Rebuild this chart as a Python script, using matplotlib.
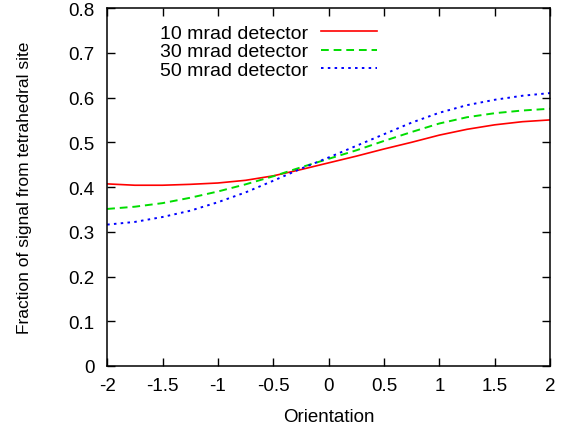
"""Fraction of signal from the tetrahedral site vs orientation, three detectors."""

import matplotlib
matplotlib.use("Agg")
import matplotlib.pyplot as plt

plt.rcParams["font.family"] = ["Liberation Sans", "DejaVu Sans"]

orientation = [-2.0, -1.75, -1.5, -1.25, -1.0, -0.75, -0.5, -0.25, 0.0,
               0.25, 0.5, 0.75, 1.0, 1.25, 1.5, 1.75, 2.0]
det_10mrad = [0.407, 0.404, 0.404, 0.406, 0.409, 0.415, 0.425, 0.439, 0.454,
              0.469, 0.485, 0.500, 0.516, 0.529, 0.539, 0.546, 0.550]
det_30mrad = [0.351, 0.356, 0.364, 0.376, 0.390, 0.406, 0.424, 0.444, 0.463,
              0.482, 0.503, 0.523, 0.542, 0.556, 0.565, 0.571, 0.575]
det_50mrad = [0.316, 0.322, 0.333, 0.347, 0.366, 0.388, 0.414, 0.441, 0.466,
              0.492, 0.518, 0.544, 0.566, 0.583, 0.595, 0.604, 0.610]

x_ticks = [-2, -1.5, -1, -0.5, 0, 0.5, 1, 1.5, 2]
x_ticklabels = ["-2", "-1.5", "-1", "-0.5", "0", "0.5", "1", "1.5", "2"]
y_ticks = [0, 0.1, 0.2, 0.3, 0.4, 0.5, 0.6, 0.7, 0.8]
y_ticklabels = ["0", "0.1", "0.2", "0.3", "0.4", "0.5", "0.6", "0.7", "0.8"]

fig = plt.figure(figsize=(5.7, 4.31), dpi=100)
ax = fig.add_axes([0.188, 0.1485, 0.777, 0.8305])

ax.plot(orientation, det_10mrad, color="#ff0000", lw=1.2, label="10 mrad detector")
ax.plot(orientation, det_30mrad, color="#00dd00", lw=1.4, dashes=(4, 2.5),
        label="30 mrad detector")
ax.plot(orientation, det_50mrad, color="#0000ff", lw=1.4, dashes=(1.3, 2.2),
        label="50 mrad detector")

ax.set_xlim(-2, 2)
ax.set_ylim(0, 0.8)
ax.set_xticks(x_ticks)
ax.set_xticklabels(x_ticklabels)
ax.set_yticks(y_ticks)
ax.set_yticklabels(y_ticklabels)
ax.tick_params(direction="in", length=6, width=1, top=True, right=True,
               labelsize=13.5)
ax.tick_params(axis="x", pad=8)
ax.tick_params(axis="y", pad=9)
for s in ax.spines.values():
    s.set_linewidth(1.1)

ax.set_xlabel("Orientation", fontsize=13.5, labelpad=10)
ax.set_ylabel("Fraction of signal from tetrahedral site", fontsize=12.5,
              labelpad=26)

leg = ax.legend(loc="upper left", bbox_to_anchor=(0.12, 0.955), frameon=False,
                markerfirst=False, fontsize=14, handlelength=2.9,
                handletextpad=0.65, labelspacing=0.05, borderpad=0,
                borderaxespad=0)

fig.savefig("out.png", dpi=100)
